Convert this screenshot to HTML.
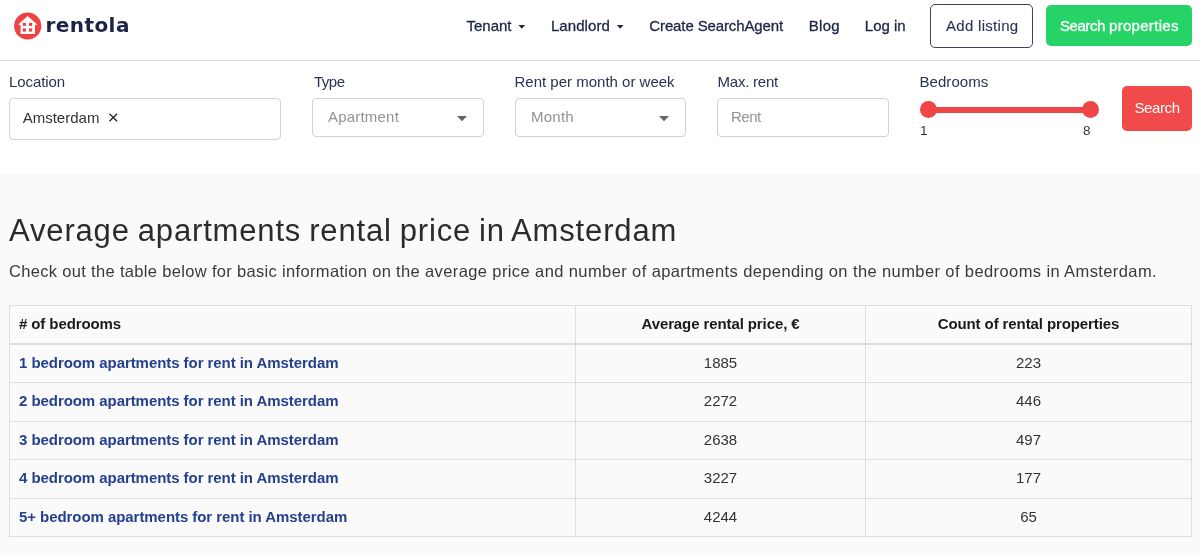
<!DOCTYPE html>
<html lang="en">
<head>
<meta charset="utf-8">
<title>Average apartments rental price in Amsterdam - Rentola</title>
<style>
*{box-sizing:border-box;margin:0;padding:0}
html,body{width:1200px;height:555px;overflow:hidden;background:#fafafa;font-family:"Liberation Sans",sans-serif;color:#222}
.abs{position:absolute;white-space:nowrap;line-height:1}
#hdr{position:absolute;left:0;top:0;width:1200px;height:61px;background:#fff;border-bottom:1px solid #dedede}
#srch{position:absolute;left:0;top:61px;width:1200px;height:113px;background:#fff}
.nav{color:#1d2547;font-size:15px;-webkit-text-stroke:0.3px}
.lbl{color:#2b3252;font-size:15px;letter-spacing:-0.1px}
.box{position:absolute;background:#fff;border:1px solid #d2d2d2;border-radius:4px}
.ph{color:#929292;font-size:15px}
.caret{position:absolute;width:7.6px;height:4.2px;background:#1d2547;clip-path:polygon(0 0,100% 0,50% 100%)}
.caret2{position:absolute;width:10px;height:5.2px;background:#666;clip-path:polygon(0 0,100% 0,50% 100%)}
table{position:absolute;left:9px;top:305px;width:1183px;border-collapse:collapse;font-size:15px}
td,th{border:1px solid #dedede;height:38.5px;padding:0 9px 1.6px;text-align:center;color:#333;font-weight:normal}
th{font-weight:bold;color:#1a1a1a;border-bottom:2px solid #dedede}
td:first-child,th:first-child{text-align:left;width:566px}
td:nth-child(2),th:nth-child(2){width:290px}
td a{color:#25408f;font-weight:bold;text-decoration:none;letter-spacing:-0.06px}
th span{letter-spacing:-0.1px}
</style>
</head>
<body>
<div id="hdr">
  <svg class="abs" style="left:0;top:0" width="60" height="60" viewBox="0 0 60 60">
    <circle cx="27.7" cy="26" r="13.6" fill="#f04242"/>
    <path d="M27.6 16.1 L18.8 24 L18.8 24.9 L20.6 24.9 L20.6 34 L35 34 L35 24.9 L36.7 24.9 L36.7 24 Z" fill="#fff"/>
    <rect x="22.8" y="22.9" width="3.2" height="3" fill="#f04242"/>
    <rect x="28.9" y="22.9" width="3.3" height="3" fill="#f04242"/>
    <rect x="22.8" y="28.4" width="3.2" height="3.2" fill="#f04242"/>
    <rect x="28.9" y="28.4" width="3.3" height="3.2" fill="#f04242"/>
  </svg>
  <div class="abs" id="logo" style="left:45.4px;top:14.7px;font-family:'DejaVu Sans',sans-serif;font-weight:bold;font-size:20px;color:#1b2346;letter-spacing:0.45px">rentola</div>
  <div class="abs nav" id="n1" style="left:466.5px;top:17.5px">Tenant</div><div class="caret" style="left:518px;top:24.6px"></div>
  <div class="abs nav" id="n2" style="left:550.9px;top:17.5px;letter-spacing:0.08px">Landlord</div><div class="caret" style="left:616.4px;top:24.6px"></div>
  <div class="abs nav" id="n3" style="left:649.3px;top:17.5px;letter-spacing:-0.12px">Create SearchAgent</div>
  <div class="abs nav" id="n4" style="left:808.8px;top:17.5px;letter-spacing:0.25px">Blog</div>
  <div class="abs nav" id="n5" style="left:864.8px;top:17.5px">Log in</div>
  <div class="abs" style="left:930px;top:4px;width:103.3px;height:43.6px;border:1.5px solid #3b4263;border-radius:5px;background:#fff"></div>
  <div class="abs nav" id="n6" style="left:946px;top:18px;font-size:15px;letter-spacing:0.3px;-webkit-text-stroke:0.1px;color:#2b3252">Add listing</div>
  <div class="abs" style="left:1046px;top:5.3px;width:146px;height:41px;border-radius:5px;background:#25d366"></div>
  <div class="abs nav" id="n7" style="left:1060px;top:18px;font-size:15px;color:#fff"><span style="letter-spacing:-0.45px">Search</span> <span style="letter-spacing:0.3px">properties</span></div>
</div>
<div id="srch"></div>
<div class="abs lbl" id="l1" style="left:9px;top:74.3px">Location</div>
<div class="abs lbl" id="l2" style="left:314px;top:74.3px;letter-spacing:-0.5px">Type</div>
<div class="abs lbl" id="l3" style="left:514.5px;top:74.3px;letter-spacing:0">Rent per month or week</div>
<div class="abs lbl" id="l4" style="left:717.5px;top:74.3px;letter-spacing:-0.22px">Max. rent</div>
<div class="abs lbl" id="l5" style="left:919.5px;top:74.3px;letter-spacing:0.05px">Bedrooms</div>
<div class="box" style="left:9px;top:98px;width:272px;height:41.5px"></div>
<div class="abs" id="v1" style="left:22.7px;top:109.5px;font-size:15px;color:#333">Amsterdam</div>
<svg class="abs" id="vx" style="left:108px;top:112px" width="11" height="11" viewBox="0 0 11 11"><path d="M1.45 1.7 L9.05 9.3 M9.05 1.7 L1.45 9.3" stroke="#222" stroke-width="1.25" fill="none"/></svg>
<div class="box" style="left:312px;top:98px;width:172px;height:38.5px"></div>
<div class="abs ph" id="p1" style="left:328px;top:109px;letter-spacing:0.2px">Apartment</div><div class="caret2" style="left:457px;top:116px"></div>
<div class="box" style="left:515px;top:98px;width:171px;height:38.5px"></div>
<div class="abs ph" id="p2" style="left:531px;top:109px;letter-spacing:0.25px">Month</div><div class="caret2" style="left:659px;top:116px"></div>
<div class="box" style="left:717px;top:98px;width:172px;height:38.5px"></div>
<div class="abs ph" id="p3" style="left:731px;top:109px;letter-spacing:-0.5px">Rent</div>
<div class="abs" style="left:928px;top:107px;width:162px;height:5.5px;background:#ee4646"></div>
<div class="abs" style="left:919.5px;top:101.2px;width:17px;height:17px;border-radius:50%;background:#ee4646"></div>
<div class="abs" style="left:1081.7px;top:101.2px;width:17px;height:17px;border-radius:50%;background:#ee4646"></div>
<div class="abs" id="s1" style="left:920px;top:123.6px;font-size:13.5px;color:#333">1</div>
<div class="abs" id="s8" style="left:1083px;top:123.6px;font-size:13.5px;color:#333">8</div>
<div class="abs" style="left:1122px;top:86px;width:70px;height:45px;border-radius:5px;background:#f04a4a"></div>
<div class="abs" id="sb" style="left:1134.5px;top:100px;font-size:15px;letter-spacing:-0.4px;color:#fff">Search</div>

<h1 class="abs" id="h1" style="left:9px;top:215.2px;font-size:31px;letter-spacing:0.84px;word-spacing:-1.5px;font-weight:normal;color:#2b2b2b">Average apartments rental price in Amsterdam</h1>
<p class="abs" id="sub" style="left:9px;top:262.6px;font-size:16.5px;letter-spacing:0.398px;color:#3a3a3a"><span style="letter-spacing:0.325px">Check out the table below for basic information on the </span>average price and number of apartments depending on the number of bedrooms in Amsterdam.</p>
<table>
<tr><th><span id="th1"># of bedrooms</span></th><th><span id="th2">Average rental price, €</span></th><th><span id="th3">Count of rental properties</span></th></tr>
<tr><td><a id="r1">1 bedroom apartments for rent in Amsterdam</a></td><td><span id="c1">1885</span></td><td><span id="c2">223</span></td></tr>
<tr><td><a>2 bedroom apartments for rent in Amsterdam</a></td><td>2272</td><td>446</td></tr>
<tr><td><a>3 bedroom apartments for rent in Amsterdam</a></td><td>2638</td><td>497</td></tr>
<tr><td><a>4 bedroom apartments for rent in Amsterdam</a></td><td>3227</td><td>177</td></tr>
<tr><td><a id="r5">5+ bedroom apartments for rent in Amsterdam</a></td><td>4244</td><td>65</td></tr>
</table>
</body>
</html>
